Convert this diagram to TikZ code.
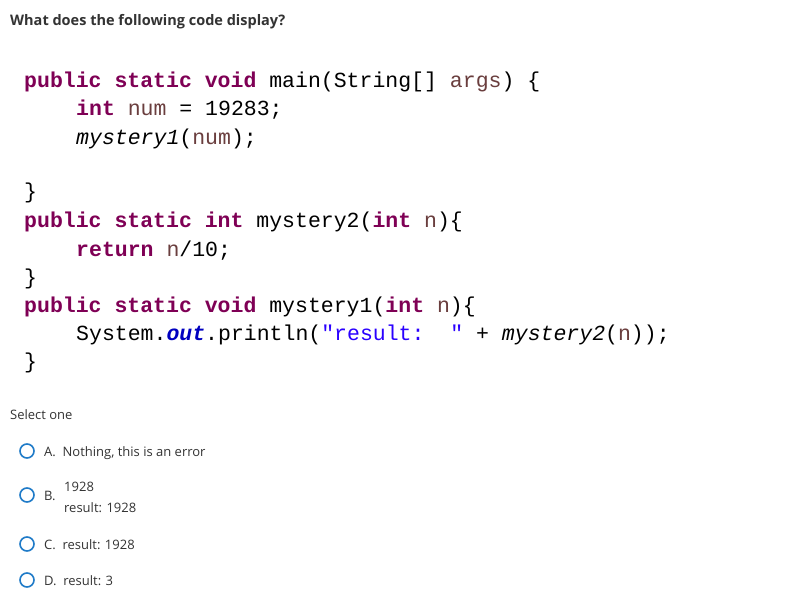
\documentclass[tikz,border=0pt]{standalone}
\usepackage{fontspec}
\setmainfont{Open Sans}
\newfontfamily\code{Liberation Mono}
\definecolor{kw}{HTML}{7F0055}
\definecolor{vr}{HTML}{6A3E3E}
\definecolor{st}{HTML}{2A00FF}
\definecolor{fl}{HTML}{0000C0}
\definecolor{tx}{HTML}{333333}
\definecolor{rb}{HTML}{1F7BC8}
\newcommand{\K}[1]{\textcolor{kw}{\textbf{#1}}}
\newcommand{\V}[1]{\textcolor{vr}{#1}}
\tikzset{
  cl/.style={anchor=base west,inner sep=0pt,font=\code\fontsize{21.5}{24}\selectfont},
  ui/.style={anchor=base west,inner sep=0pt,text=tx,font=\fontsize{13}{15}\selectfont},
  radio/.style={circle,draw=rb,line width=1.6pt,minimum size=14pt,inner sep=0pt}
}
\begin{document}
\begin{tikzpicture}[x=1pt,y=-1pt]
\useasboundingbox[fill=white] (0,0) rectangle (808,615);
\node[anchor=base west,inner sep=0pt,text=tx,font=\bfseries\fontsize{14.5}{17}\selectfont] (q) at (10,26) {What does the following code display?};
\node[cl] (l1) at (24,88) {\K{public} \K{static} \K{void} main(String[] \V{args}) \{};
\node[cl] (l2) at (76,116) {\K{int} \V{num} = 19283;};
\node[cl] (l3) at (76,145) {\textit{mystery1}(\V{num});};
\node[cl] (l4) at (24,198) {\}};
\node[cl] (l5) at (24,227) {\K{public} \K{static} \K{int} mystery2(\K{int} \V{n})\{};
\node[cl] (l6) at (76,256) {\K{return} \V{n}/10;};
\node[cl] (l7) at (24,284) {\}};
\node[cl] (l8) at (24,312) {\K{public} \K{static} \K{void} mystery1(\K{int} \V{n})\{};
\node[cl] (l9) at (76,340) {System.\textcolor{fl}{\textbf{\textit{out}}}.println(\textcolor{st}{"result:~~"} + \textit{mystery2}(\V{n}));};
\node[cl] (l10) at (24,368) {\}};
\node[ui] (sel) at (10,419) {Select one};
\node[radio] (ra) at (27,451) {};
\node[ui] (ta) at (44,456) {A.~~Nothing, this is an error};
\node[radio] (rb) at (27,495) {};
\node[ui] (tb) at (44,500) {B.};
\node[ui] (tb1) at (64,491) {1928};
\node[ui] (tb2) at (64,512) {result: 1928};
\node[radio] (rc) at (27,544) {};
\node[ui] (tc) at (44,549) {C.~~result: 1928};
\node[radio] (rd) at (27,580) {};
\node[ui] (td) at (44,585) {D.~~result: 3};
\end{tikzpicture}
\end{document}
